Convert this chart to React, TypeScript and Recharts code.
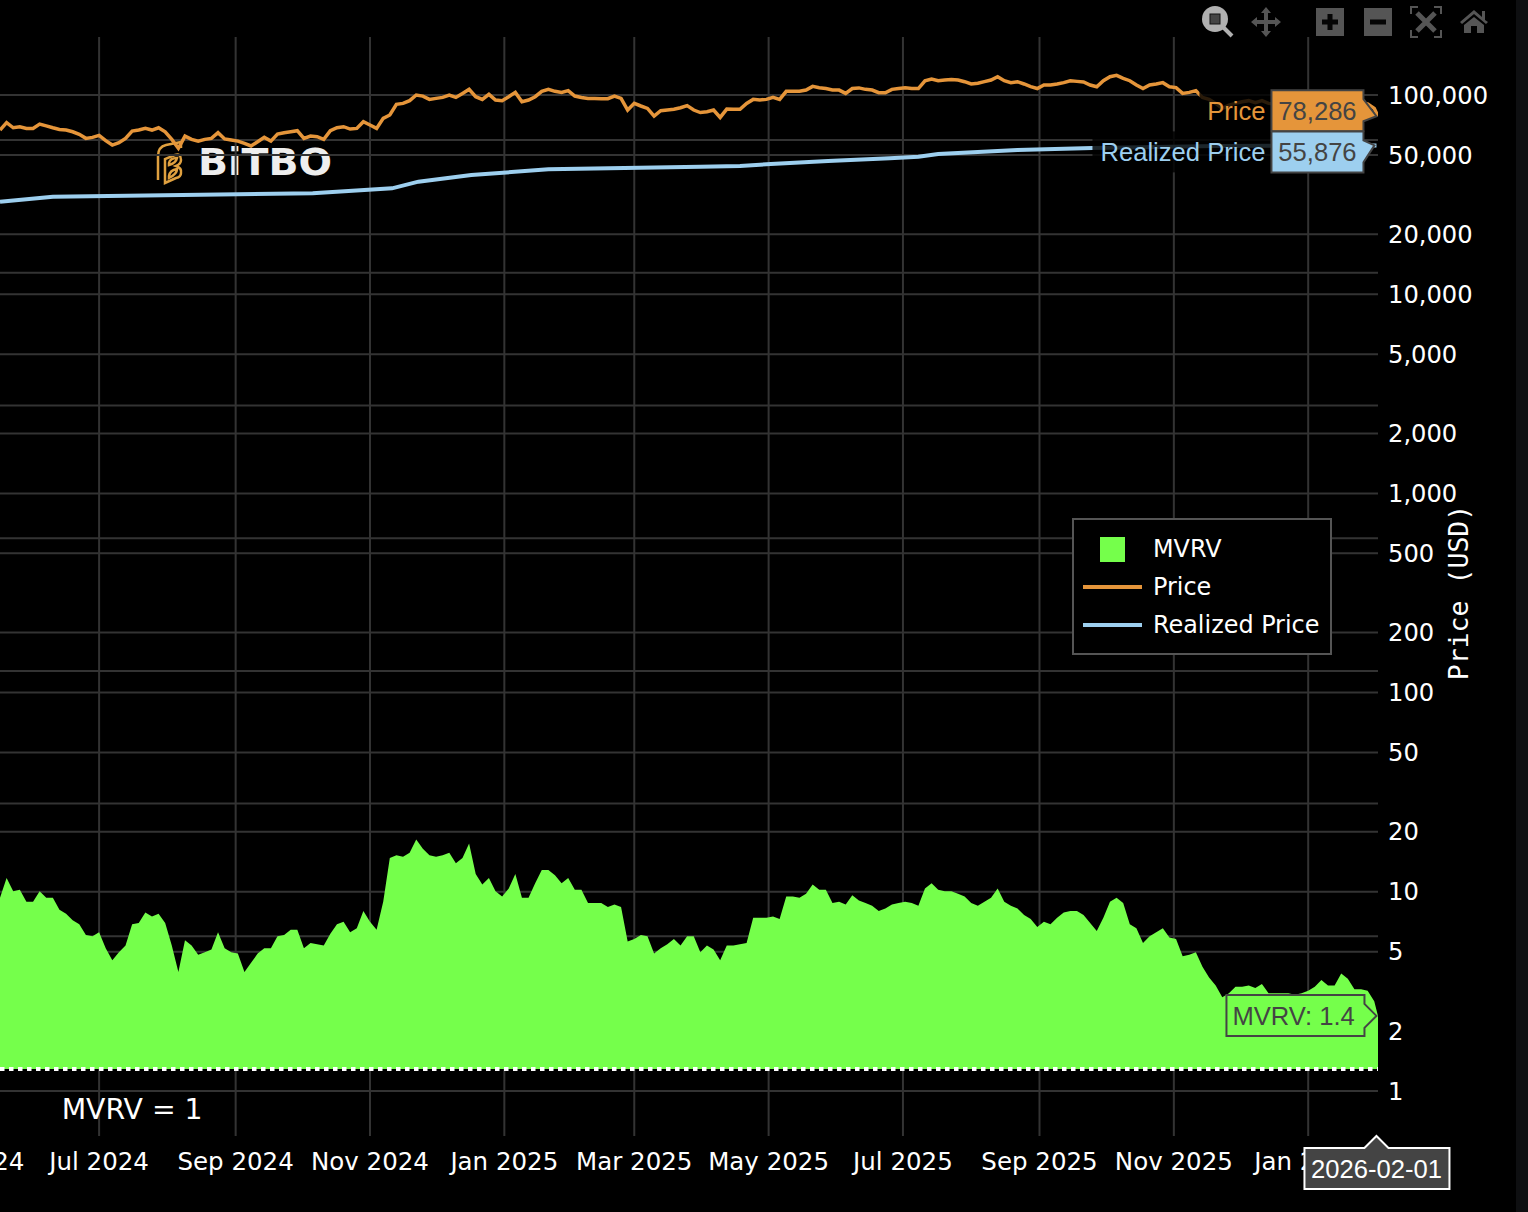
import React from "react";
import {
  ComposedChart,
  Area,
  Line,
  XAxis,
  YAxis,
  CartesianGrid,
  ReferenceLine,
  ReferenceDot,
  Legend,
} from "recharts";

const DAY = 86400000;
const START = Date.UTC(2024, 4, 17);
const LAST_DATE = Date.UTC(2026, 1, 1);
const END = LAST_DATE + 0.7 * DAY;
const STEP_DAYS = 3;

// one value every STEP_DAYS days from START
const MVRV_VALUES = [
  2.29, 2.44, 2.34, 2.35, 2.26, 2.26, 2.34, 2.29, 2.29, 2.2,
  2.17, 2.12, 2.09, 2.01, 2.0, 2.03, 1.91, 1.82, 1.88, 1.93,
  2.09, 2.1, 2.18, 2.15, 2.17, 2.1, 1.93, 1.73, 1.97, 1.93,
  1.86, 1.88, 1.9, 2.03, 1.91, 1.88, 1.87, 1.73, 1.8, 1.87,
  1.91, 1.91, 2.0, 2.01, 2.05, 2.05, 1.91, 1.95, 1.94, 1.93,
  2.02, 2.09, 2.11, 2.03, 2.06, 2.19, 2.11, 2.05, 2.26, 2.59,
  2.61, 2.6, 2.63, 2.73, 2.66, 2.61, 2.6, 2.61, 2.63, 2.55,
  2.59, 2.7, 2.47, 2.39, 2.44, 2.34, 2.3, 2.36, 2.47, 2.29,
  2.29, 2.4, 2.5, 2.5, 2.46, 2.4, 2.44, 2.35, 2.35, 2.25,
  2.25, 2.25, 2.22, 2.24, 2.22, 1.96, 1.98, 2.01, 2.0, 1.87,
  1.91, 1.94, 1.98, 1.93, 2.0, 2.0, 1.88, 1.93, 1.9, 1.82,
  1.93, 1.93, 1.94, 1.95, 2.14, 2.14, 2.14, 2.15, 2.13, 2.3,
  2.3, 2.29, 2.32, 2.39, 2.35, 2.35, 2.25, 2.26, 2.24, 2.31,
  2.27, 2.25, 2.23, 2.19, 2.21, 2.24, 2.25, 2.26, 2.25, 2.23,
  2.36, 2.4, 2.35, 2.34, 2.34, 2.32, 2.3, 2.25, 2.23, 2.26,
  2.29, 2.36, 2.26, 2.23, 2.21, 2.16, 2.13, 2.07, 2.11, 2.09,
  2.14, 2.18, 2.19, 2.19, 2.16, 2.1, 2.04, 2.14, 2.26, 2.29,
  2.25, 2.09, 2.06, 1.95, 2.0, 2.03, 2.06, 1.99, 1.98, 1.85,
  1.86, 1.88, 1.77, 1.69, 1.63, 1.54, 1.57, 1.62, 1.62, 1.63,
  1.61, 1.64, 1.57, 1.57, 1.57, 1.57, 1.56, 1.57, 1.59, 1.62,
  1.67, 1.63, 1.63, 1.72, 1.68, 1.6, 1.6, 1.59, 1.51, 1.4,
];

const PRICE_VALUES = [
  66700, 72650, 68500, 69350, 68000, 68000, 71500, 70000, 68500, 67200,
  66700, 65400, 63500, 60600, 61300, 62700, 59000, 56100, 57600, 60600,
  65900, 66700, 68000, 66700, 68500, 65400, 59900, 54000, 62200, 59900,
  58700, 59900, 60600, 64700, 60200, 59400, 58700, 57200, 55500, 58300,
  61300, 58700, 63700, 64700, 65400, 66200, 60600, 62200, 61800, 59900,
  66200, 68500, 69350, 67500, 68000, 73500, 70700, 68000, 76400, 79400,
  89800, 90800, 93700, 100000, 98800, 95100, 96200, 97300, 100000, 97300,
  101900, 106800, 98100, 95100, 100800, 94400, 93700, 98100, 103100, 92600,
  94400, 98100, 104400, 106800, 104400, 103100, 105200, 98800, 97300, 96200,
  96200, 95800, 95800, 98800, 96200, 84100, 90800, 88100, 85700, 78400,
  83500, 84100, 84800, 86300, 88500, 84100, 81700, 82500, 84100, 77200,
  85000, 84800, 84800, 90800, 95100, 94400, 95100, 97300, 95100, 104400,
  104400, 104400, 105900, 110500, 108900, 107800, 105900, 105900, 101900, 107800,
  108600, 106800, 105900, 102700, 102700, 106800, 107800, 108900, 107800, 107800,
  117800, 120300, 118000, 118900, 119800, 118900, 116700, 113600, 114500, 116700,
  118900, 123600, 118000, 115400, 116700, 113600, 110100, 107800, 112300, 112300,
  113600, 115400, 118000, 117100, 116300, 112300, 110100, 118000, 123600, 125500,
  121300, 118000, 112300, 107800, 112300, 113600, 115400, 110100, 109000, 101900,
  103100, 105200, 97300, 95100, 90800, 85700, 89000, 90800, 92600, 93700,
  91500, 93700, 90800, 90100, 89000, 89800, 88600, 89000, 90800, 92600,
  95100, 93000, 93000, 97300, 95100, 90800, 90800, 90100, 85700, 78286,
];

const REALIZED_DATES = [
  "2024-05-17", "2024-06-10", "2024-10-06", "2024-11-11", "2024-11-23", "2024-12-17",
  "2025-01-21", "2025-03-31", "2025-04-18", "2025-05-02", "2025-05-28", "2025-06-25",
  "2025-07-08", "2025-07-17", "2025-08-22", "2025-09-25", "2025-11-20", "2026-02-01",
];
const REALIZED_VALUES = [
  29130, 30870, 32090, 34000, 36730, 39670,
  42360, 43650, 44010, 45030, 46630, 48110,
  49010, 50570, 52970, 54200, 55500, 55876,
];

const X_TICKS = [
  "2024-07-01", "2024-09-01", "2024-11-01", "2025-01-01", "2025-03-01",
  "2025-05-01", "2025-07-01", "2025-09-01", "2025-11-01", "2026-01-01",
];
const PRICE_TICKS = [
  100000, 50000, 20000, 10000, 5000, 2000, 1000, 500, 200, 100, 50, 20, 10, 5, 2, 1,
];
const MVRV_TICKS = [2, 3, 4, 5, 6, 7, 8];
const MONTHS = ["Jan", "Feb", "Mar", "Apr", "May", "Jun", "Jul", "Aug", "Sep", "Oct", "Nov", "Dec"];

const ORANGE = "#E5953A";
const BLUE = "#9DCFEF";
const GREEN = "#75FF4B";
const GRID = "#333333";
const DARK = "#444444";
const SANS = "'DejaVu Sans', sans-serif";
const ARIAL = "'Liberation Sans', Arial, sans-serif";
const MONO = "'DejaVu Sans Mono', monospace";

const rows = MVRV_VALUES.map((mvrv, i) => ({
  date: Math.min(START + i * STEP_DAYS * DAY, END),
  mvrv,
  price: PRICE_VALUES[i],
}));
const realizedRows = REALIZED_DATES.map((d, i) => ({
  date: Date.parse(d),
  realized: REALIZED_VALUES[i],
}));

function formatMonth(t: number) {
  const d = new Date(t);
  return `${MONTHS[d.getUTCMonth()]} ${d.getUTCFullYear()}`;
}

// hover box next to the last point, the tip sits on the value
function HoverBox(props: any) {
  const { cx, cy, value, name, fill, top, bottom, shoulderTop, shoulderBottom, nameWidth, tipX = 0 } = props;
  const left = cx - 105;
  const right = cx - 13;
  const d = `M${left} ${cy + top} L${right} ${cy + top} L${right} ${cy + shoulderTop} L${cx + tipX} ${cy} L${right} ${cy + shoulderBottom} L${right} ${cy + bottom} L${left} ${cy + bottom} Z`;
  const mid = cy + (top + bottom) / 2;
  return (
    <g>
      <rect x={left - nameWidth} y={cy + top} width={nameWidth} height={bottom - top} fill="rgba(0,0,0,0.82)" />
      <text x={left - 6} y={mid + 9} textAnchor="end" fill={fill} fontFamily={ARIAL} fontSize={25.6}>
        {name}
      </text>
      <path d={d} fill={fill} stroke={DARK} strokeWidth={2} />
      <text x={(left + right) / 2} y={mid + 9} textAnchor="middle" fill={DARK} fontFamily={ARIAL} fontSize={25.6}>
        {value}
      </text>
    </g>
  );
}

function MvrvBox({ cx, cy }: any) {
  const left = cx - 150;
  const right = cx - 12;
  const d = `M${left} ${cy - 21} L${right} ${cy - 21} L${right} ${cy - 12} L${cx} ${cy} L${right} ${cy + 12} L${right} ${cy + 20} L${left} ${cy + 20} Z`;
  return (
    <g>
      <path d={d} fill={GREEN} stroke={DARK} strokeWidth={2} />
      <text x={left + 6} y={cy + 9} fill={DARK} fontFamily={ARIAL} fontSize={25.6}>
        MVRV: 1.4
      </text>
    </g>
  );
}

function DateBox({ cx, cy }: any) {
  const d = `M${cx - 72} ${cy + 12} L${cx - 12} ${cy + 12} L${cx} ${cy} L${cx + 12} ${cy + 12} L${cx + 73} ${cy + 12} L${cx + 73} ${cy + 53} L${cx - 72} ${cy + 53} Z`;
  return (
    <g>
      <path d={d} fill={DARK} stroke="#ffffff" strokeWidth={2} />
      <text x={cx} y={cy + 42} textAnchor="middle" fill="#ffffff" fontFamily={ARIAL} fontSize={25.6}>
        2026-02-01
      </text>
    </g>
  );
}

function MvrvOneNote({ cx, cy }: any) {
  return (
    <text x={cx} y={cy + 10} textAnchor="middle" fill="#ffffff" fontFamily={SANS} fontSize={28.3}>
      MVRV = 1
    </text>
  );
}

function ChartLegend() {
  const row = (swatch: React.ReactNode, label: string) => (
    <div style={{ display: "flex", alignItems: "center", height: 38 }}>
      <div style={{ width: 79, flex: "none" }}>{swatch}</div>
      <span style={{ color: "#fff", fontFamily: SANS, fontSize: 23.9, whiteSpace: "nowrap" }}>{label}</span>
    </div>
  );
  const line = (color: string) => <div style={{ marginLeft: 9, width: 59, height: 4, background: color }} />;
  return (
    <div style={{ width: 260, height: 137, boxSizing: "border-box", border: "2px solid #555", background: "#000", paddingTop: 10 }}>
      {row(<div style={{ marginLeft: 26, width: 25, height: 25, background: GREEN }} />, "MVRV")}
      {row(line(ORANGE), "Price")}
      {row(line(BLUE), "Realized Price")}
    </div>
  );
}

function LogoBackdrop() {
  return (
    <svg width={1528} height={1212} style={{ position: "absolute", left: 0, top: 0 }}>
      <g fill="none" stroke="#DFA03F" strokeWidth={2.5}>
        <path d="M158 180 L158 156 Q158 147 166 145 L181 142 L181 148" />
        <path d="M165 183 L165 159 L175 155 Q181 153 181 160 Q181 164 176 166 Q182 168 181 173 Q181 177 176 178 Z" />
        <path d="M169 163 Q170 158 177 158 Q176 163 169 165 Z M169 176 Q170 170 177 169 Q177 174 169 178 Z" />
      </g>
      <text x={198} y={175} fill="#EEEEEE" fontFamily={SANS} fontWeight={700} fontSize={37} textLength={134} lengthAdjust="spacingAndGlyphs">
        BiTBO
      </text>
    </svg>
  );
}

function ModeBar() {
  return (
    <svg width={1528} height={50} style={{ position: "absolute", left: 0, top: 0 }}>
      <circle cx={1215} cy={19} r={13} fill="#B0B0B0" />
      <rect x={1210} y={14} width={10} height={10} fill="#444" stroke="#111" strokeWidth={1} />
      <path d="M1223 27 L1232 36" stroke="#B0B0B0" strokeWidth={4} />
      <path
        d="M1266 7 L1271 13 L1268 13 L1268 20 L1275 20 L1275 17 L1281 22 L1275 27 L1275 24 L1268 24 L1268 31 L1271 31 L1266 37 L1261 31 L1264 31 L1264 24 L1257 24 L1257 27 L1251 22 L1257 17 L1257 20 L1264 20 L1264 13 L1261 13 Z"
        fill="#555"
      />
      <rect x={1316} y={8} width={28} height={28} fill="#555" />
      <path d="M1322 22 L1338 22 M1330 14 L1330 30" stroke="#050505" strokeWidth={5} />
      <rect x={1364} y={8} width={28} height={28} fill="#555" />
      <path d="M1370 22 L1386 22" stroke="#050505" strokeWidth={5} />
      <path d="M1411 14 L1411 7 L1418 7 M1434 7 L1441 7 L1441 14 M1441 30 L1441 37 L1434 37 M1418 37 L1411 37 L1411 30" stroke="#555" strokeWidth={2} fill="none" />
      <path d="M1417 13 L1435 31 M1435 13 L1417 31" stroke="#555" strokeWidth={5} />
      <path d="M1460 22 L1474 10 L1482 17 L1482 11 L1485 11 L1485 20 L1488 22 L1486 24 L1474 14 L1462 24 Z M1464 25 L1474 17 L1484 25 L1484 33 L1477 33 L1477 26 L1471 26 L1471 33 L1464 33 Z" fill="#555" />
    </svg>
  );
}

export default function App() {
  return (
    <div style={{ position: "absolute", left: 0, top: 0, width: 1528, height: 1212, background: "#000", overflow: "hidden" }}>
      <div style={{ position: "absolute", left: 1516, top: 0, width: 12, height: 1212, background: "#0e0f11" }} />
      <LogoBackdrop />
      <ComposedChart
        width={1528}
        height={1212}
        data={rows}
        margin={{ top: 37, right: 0, bottom: 0, left: 0 }}
        style={{ position: "absolute", left: 0, top: 0 }}
      >
        <CartesianGrid stroke={GRID} strokeWidth={2} yAxisId="price" syncWithTicks />
        <CartesianGrid stroke={GRID} strokeWidth={2} vertical={false} yAxisId="mvrv" syncWithTicks />
        <XAxis
          dataKey="date"
          type="number"
          scale="time"
          domain={[START, END]}
          ticks={X_TICKS.map((d) => Date.parse(d))}
          tickFormatter={formatMonth}
          interval={0}
          height={76}
          tickLine={false}
          axisLine={false}
          tickSize={0}
          tickMargin={17}
          tick={{ fill: "#ffffff", fontSize: 24.5, fontFamily: SANS }}
          allowDataOverflow
          zIndex={100}
        />
        <YAxis
          yAxisId="price"
          orientation="right"
          scale="log"
          domain={[0.594, 195600]}
          ticks={PRICE_TICKS}
          interval={0}
          width={150}
          tickLine={false}
          axisLine={false}
          tickSize={0}
          tickMargin={10}
          tick={{ fill: "#ffffff", fontSize: 24.2, fontFamily: SANS }}
          tickFormatter={(v) => Number(v).toLocaleString("en-US")}
          allowDataOverflow
          label={{
            value: "Price (USD)",
            angle: -90,
            position: "center",
            dx: 6,
            dy: 6,
            fill: "#ffffff",
            fontSize: 26.5,
            fontFamily: MONO,
          }}
        />
        <YAxis yAxisId="mvrv" hide domain={[0.495, 8.777]} ticks={MVRV_TICKS} allowDataOverflow />
        <Area
          yAxisId="mvrv"
          dataKey="mvrv"
          name="MVRV"
          type="linear"
          baseValue={1}
          stroke="none"
          fill={GREEN}
          fillOpacity={1}
          isAnimationActive={false}
        />
        <Line
          yAxisId="price"
          dataKey="price"
          name="Price"
          type="linear"
          stroke={ORANGE}
          strokeWidth={3.5}
          dot={false}
          isAnimationActive={false}
        />
        <Line
          yAxisId="price"
          data={realizedRows}
          dataKey="realized"
          name="Realized Price"
          type="linear"
          stroke={BLUE}
          strokeWidth={4}
          dot={false}
          isAnimationActive={false}
        />
        <ReferenceLine yAxisId="mvrv" y={1} stroke="#ffffff" strokeWidth={4} strokeDasharray="4.5 4.5" />
        <ReferenceDot
          yAxisId="mvrv"
          x={Date.parse("2024-07-16")}
          y={0.7}
          ifOverflow="visible"
          shape={MvrvOneNote}
        />
        <ReferenceDot
          yAxisId="price"
          x={LAST_DATE}
          y={78286}
          ifOverflow="visible"
          shape={(p: any) => (
            <HoverBox {...p} value="78,286" name="Price" fill={ORANGE} top={-26} bottom={15} shoulderTop={-17} shoulderBottom={5} nameWidth={72} />
          )}
        />
        <ReferenceDot
          yAxisId="price"
          x={LAST_DATE}
          y={55876}
          ifOverflow="visible"
          shape={(p: any) => (
            <HoverBox {...p} value="55,876" name="Realized Price" fill={BLUE} top={-14} bottom={27} shoulderTop={-5} shoulderBottom={17} nameWidth={179} tipX={-2} />
          )}
        />
        <ReferenceDot yAxisId="mvrv" x={LAST_DATE} y={1.4} ifOverflow="visible" shape={MvrvBox} />
        <ReferenceDot yAxisId="mvrv" x={LAST_DATE} y={0.495} ifOverflow="visible" shape={DateBox} zIndex={2000} />
        <Legend
          layout="horizontal"
          verticalAlign="middle"
          align="center"
          content={<ChartLegend />}
          wrapperStyle={{ position: "absolute", left: 1072, top: 518, width: 260, height: 137 }}
        />
      </ComposedChart>
      <svg width={60} height={60} style={{ position: "absolute", left: 0, top: 1135 }}>
        <text x={-36} y={35} textAnchor="middle" fill="#ffffff" fontFamily={SANS} fontSize={24.5}>
          May 2024
        </text>
      </svg>
      <ModeBar />
    </div>
  );
}
